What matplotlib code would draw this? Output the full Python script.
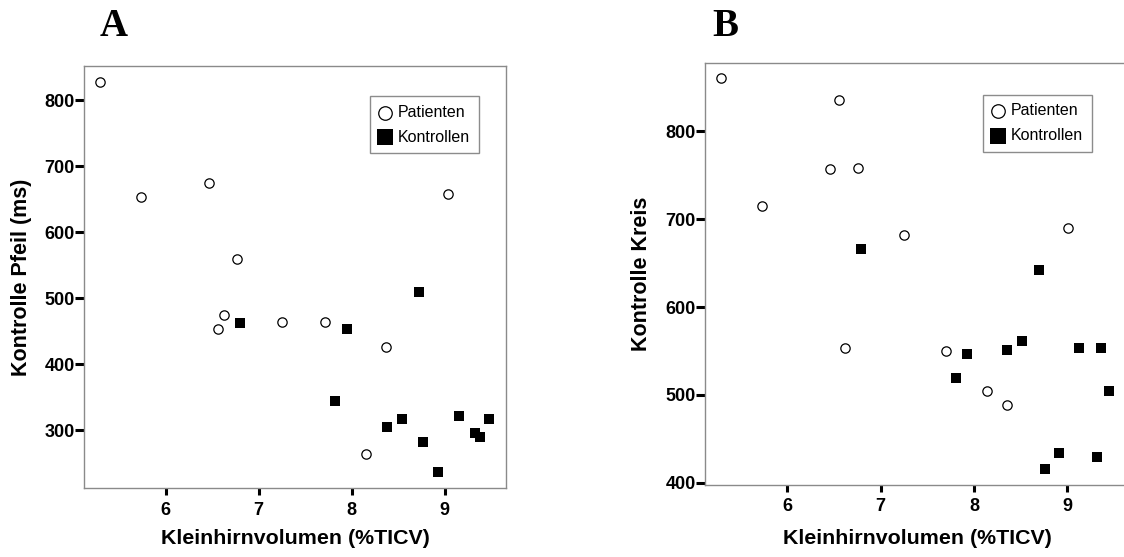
import matplotlib
matplotlib.use("Agg")
import matplotlib.pyplot as plt

# Kleinhirnvolumen (%TICV) vs. reaction times, panel A (Pfeil) and panel B (Kreis)
pat_vol_a = [5.29, 5.73, 6.47, 6.77, 6.63, 6.56, 7.25, 7.71, 8.37, 9.04, 8.15]
pat_pfeil = [828, 653, 674, 559, 474, 453, 464, 464, 426, 658, 264]
kon_vol_a = [6.80, 7.95, 8.72, 7.82, 8.38, 8.54, 8.77, 8.93, 9.16, 9.33, 9.38, 9.48]
kon_pfeil = [462, 454, 510, 344, 305, 317, 282, 236, 321, 296, 290, 317]

pat_vol_b = [5.29, 6.56, 6.46, 6.76, 5.73, 7.25, 6.62, 9.01, 7.70, 8.14, 8.35]
pat_kreis = [861, 836, 757, 758, 715, 682, 553, 690, 550, 505, 489]
kon_vol_b = [6.79, 8.70, 7.93, 7.81, 8.35, 8.51, 9.13, 9.36, 9.45, 8.76, 8.91, 9.32]
kon_kreis = [666, 642, 547, 519, 551, 561, 553, 553, 505, 416, 434, 429]

x_ticks = [6, 7, 8, 9]
y_ticks_a = [300, 400, 500, 600, 700, 800]
y_ticks_b = [400, 500, 600, 700, 800]

SANS = "Liberation Sans"
SERIF = "Liberation Serif"

fig = plt.figure(figsize=(11.24, 5.57), dpi=100)
ax_a = fig.add_axes([0.0747, 0.1233, 0.3754, 0.7582])
ax_b = fig.add_axes([0.6272, 0.1293, 0.3772, 0.7576])


def draw_panel(ax, pv, py, kv, ky, yticks, ylim, ylabel, leg_anchor, ylab_x, xlab_y):
    ax.scatter(pv, py, s=45, marker="o", facecolors="white",
               edgecolors="black", linewidths=0.9, label="Patienten", zorder=3)
    ax.scatter(kv, ky, s=62, marker="s", color="black",
               linewidths=0, label="Kontrollen", zorder=3)
    ax.set_xlim(5.12, 9.66)
    ax.set_ylim(*ylim)
    ax.set_xticks(x_ticks)
    ax.set_yticks(yticks)
    for sp in ax.spines.values():
        sp.set_color("#8a8a8a")
        sp.set_linewidth(1.0)
    ax.tick_params(axis="both", direction="out", width=2.2,
                   color="black", labelsize=13)
    ax.tick_params(axis="y", length=6.5, pad=0)
    ax.tick_params(axis="x", length=4.8, pad=4.8)
    for lab in ax.get_xticklabels() + ax.get_yticklabels():
        lab.set_fontfamily(SANS)
        lab.set_fontweight("bold")
    ax.set_xlabel("Kleinhirnvolumen (%TICV)", fontsize=15.4,
                  fontweight="bold", family=SANS)
    ax.set_ylabel(ylabel, fontsize=15.5, fontweight="bold", family=SANS)
    ax.yaxis.set_label_coords(ylab_x, 0.5)
    ax.xaxis.set_label_coords(0.5, xlab_y)
    leg = ax.legend(loc="upper right", bbox_to_anchor=leg_anchor,
                    borderaxespad=0, frameon=True, fancybox=False,
                    edgecolor="#707070", markerscale=1.45,
                    prop={"family": SANS, "size": 11.5},
                    handlelength=0.8, handletextpad=0.4,
                    labelspacing=0.62, borderpad=0.55)
    leg.get_frame().set_linewidth(1.0)


draw_panel(ax_a, pat_vol_a, pat_pfeil, kon_vol_a, kon_pfeil, y_ticks_a,
           (212, 852), "Kontrolle Pfeil (ms)", (0.936, 0.929), -0.123, -0.0954)
draw_panel(ax_b, pat_vol_b, pat_kreis, kon_vol_b, kon_kreis, y_ticks_b,
           (397.5, 878), "Kontrolle Kreis", (0.913, 0.925), -0.125, -0.1033)

fig.text(100 / 1124, 1 - 36 / 557, "A", family=SERIF, fontweight="bold",
         fontsize=28, ha="left", va="baseline")
fig.text(712 / 1124, 1 - 36 / 557, "B", family=SERIF, fontweight="bold",
         fontsize=28, ha="left", va="baseline")

fig.savefig("out.png", dpi=100)
